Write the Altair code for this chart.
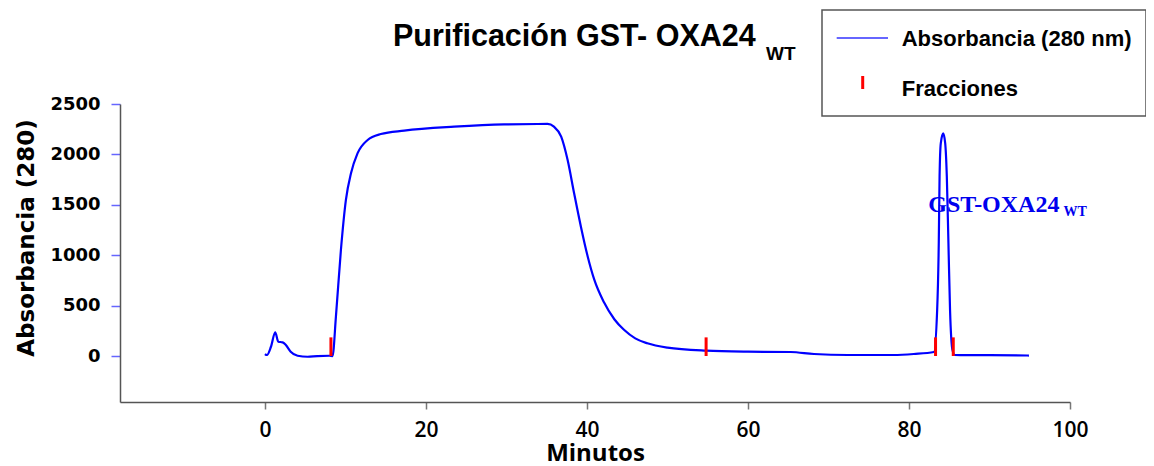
import altair as alt
import pandas as pd

# ---- data ----
minutos = [0, 0.25, 0.75, 1.28, 1.66, 2.2, 2.6, 3.2, 4.06, 5.3, 6.5, 8.0, 8.4, 8.82,
           9.44, 10.06, 10.7, 11.5, 12.76, 14.4, 17.3, 23.5, 29.7, 35.1, 35.9, 36.8,
           37.6, 38.4, 39.25, 40.1, 40.9, 42.1, 43.4, 44.6, 46.0, 47.5, 50.0, 54.8,
           60.0, 65.3, 68.2, 72.4, 78.1, 80.6, 83.1, 83.5, 83.7, 83.8, 83.95, 84.25,
           84.5, 84.7, 84.9, 85.1, 85.4, 85.7, 90.0, 94.9]
absorbancia = [20, 10, 92, 235, 142, 136, 109, 43, 3, -7, 0, 3, 0, 390,
               1052, 1548, 1815, 2010, 2143, 2202, 2236, 2275, 2298, 2302, 2275, 2176,
               1944, 1617, 1283, 985, 760, 535, 365, 260, 175, 126, 83, 53,
               43, 40, 20, 10, 10, 20, 40, 456, 1120, 1780, 2110, 2208,
               2110, 1780, 1120, 456, 60, 10, 8, 5]

fracciones_t = [8.2, 54.8, 83.3, 85.5]
fraccion_alto = 185

x_ticks = [0, 20, 40, 60, 80, 100]
y_ticks = [0, 500, 1000, 1500, 2000, 2500]

titulo = "Purificación GST- OXA24"
titulo_sub = "WT"
leyenda = ["Absorbancia (280 nm)", "Fracciones"]
anot = "GST-OXA24"
anot_sub = "WT"
anot_pos = (82.4, 1431)
anot_sub_pos = (99.2, 1389)

curve_df = pd.DataFrame({"t": minutos, "A": absorbancia})
frac_df = pd.DataFrame({"t": fracciones_t, "y0": [0] * len(fracciones_t),
                        "y1": [fraccion_alto] * len(fracciones_t)})

x_enc = alt.X("t:Q", scale=alt.Scale(domain=[-18, 100], nice=False, zero=False),
              axis=alt.Axis(values=x_ticks, title="Minutos", grid=False, format="d",
                            labelFont="Open Sans", labelFontSize=21, labelFontWeight=600,
                            labelColor="black", labelFlush=False, labelPadding=10,
                            tickColor="#777777", tickSize=7, tickWidth=1.5,
                            domainColor="#555555", domainWidth=1.5,
                            titleFont="Open Sans", titleFontSize=24, titleFontWeight="bold",
                            titleColor="black", titleBaseline="alphabetic", titleY=58))
y_enc = alt.Y("A:Q", scale=alt.Scale(domain=[-456, 2500], nice=False, zero=False),
              axis=alt.Axis(values=y_ticks, title="Absorbancia (280)", grid=False, format="d",
                            labelFont="DejaVu Sans", labelFontSize=18, labelFontWeight="bold",
                            labelColor="black", labelFlush=False, labelPadding=11,
                            tickColor="#6666ff", tickSize=9, tickWidth=1.5,
                            domainColor="#555555", domainWidth=1.5,
                            titleFont="DejaVu Sans", titleFontSize=23, titleFontWeight="bold",
                            titleColor="black", titleBaseline="alphabetic", titleAngle=270,
                            titleAlign="center", titleX=-86.5, titleY=133.5))

line = alt.Chart(curve_df).mark_line(color="#0000ff", strokeWidth=2.2, interpolate="monotone").encode(
    x=x_enc, y=y_enc)

rules = alt.Chart(frac_df).mark_rule(color="#ff0000", strokeWidth=3).encode(
    x="t:Q", y="y0:Q", y2="y1:Q")

anot_df = pd.DataFrame({"t": [anot_pos[0]], "A": [anot_pos[1]], "label": [anot]})
anot_sub_df = pd.DataFrame({"t": [anot_sub_pos[0]], "A": [anot_sub_pos[1]], "label": [anot_sub]})
anot_text = alt.Chart(anot_df).mark_text(font="Liberation Serif", fontSize=24, fontWeight="bold",
                                         color="#0000ee", align="left", baseline="alphabetic").encode(
    x="t:Q", y="A:Q", text="label:N")
anot_sub_text = alt.Chart(anot_sub_df).mark_text(font="Liberation Serif", fontSize=14, fontWeight="bold",
                                                 color="#0000ee", align="left", baseline="alphabetic").encode(
    x="t:Q", y="A:Q", text="label:N")

one = pd.DataFrame({"k": [0]})
title_text = alt.Chart(pd.DataFrame({"label": [titulo]})).mark_text(
    font="Liberation Sans", fontSize=30.5, fontWeight="bold", color="black",
    align="left", baseline="alphabetic").encode(x=alt.value(273), y=alt.value(-58), text="label:N")
title_sub = alt.Chart(pd.DataFrame({"label": [titulo_sub]})).mark_text(
    font="Liberation Sans", fontSize=19, fontWeight="bold", color="black",
    align="left", baseline="alphabetic").encode(x=alt.value(646), y=alt.value(-44), text="label:N")

leg_box = alt.Chart(one).mark_rect(fill="white", stroke="#555555", strokeWidth=1.5).encode(
    x=alt.value(702), x2=alt.value(1026), y=alt.value(-94), y2=alt.value(12))
leg_line = alt.Chart(one).mark_rule(color="#3333ff", strokeWidth=1.5).encode(
    x=alt.value(716.7), x2=alt.value(768), y=alt.value(-66))
leg_tick = alt.Chart(one).mark_rule(color="#ff0000", strokeWidth=3).encode(
    x=alt.value(742.7), y=alt.value(-28), y2=alt.value(-15))
leg_t1 = alt.Chart(pd.DataFrame({"label": [leyenda[0]]})).mark_text(
    font="Liberation Sans", fontSize=22, fontWeight="bold", color="black",
    align="left", baseline="alphabetic").encode(x=alt.value(781.7), y=alt.value(-58.3), text="label:N")
leg_t2 = alt.Chart(pd.DataFrame({"label": [leyenda[1]]})).mark_text(
    font="Liberation Sans", fontSize=22, fontWeight="bold", color="black",
    align="left", baseline="alphabetic").encode(x=alt.value(781.7), y=alt.value(-8), text="label:N")

chart = alt.layer(
    line, rules, anot_text, anot_sub_text, title_text, title_sub,
    leg_box, leg_line, leg_tick, leg_t1, leg_t2
).properties(
    width=950, height=298,
    autosize=alt.AutoSizeParams(type="none"),
    padding={"left": 112, "top": 96, "right": 76, "bottom": 64},
    background="white",
).configure_view(stroke="transparent")

chart.save("out.html", embed_options={"renderer": "svg", "actions": False})
